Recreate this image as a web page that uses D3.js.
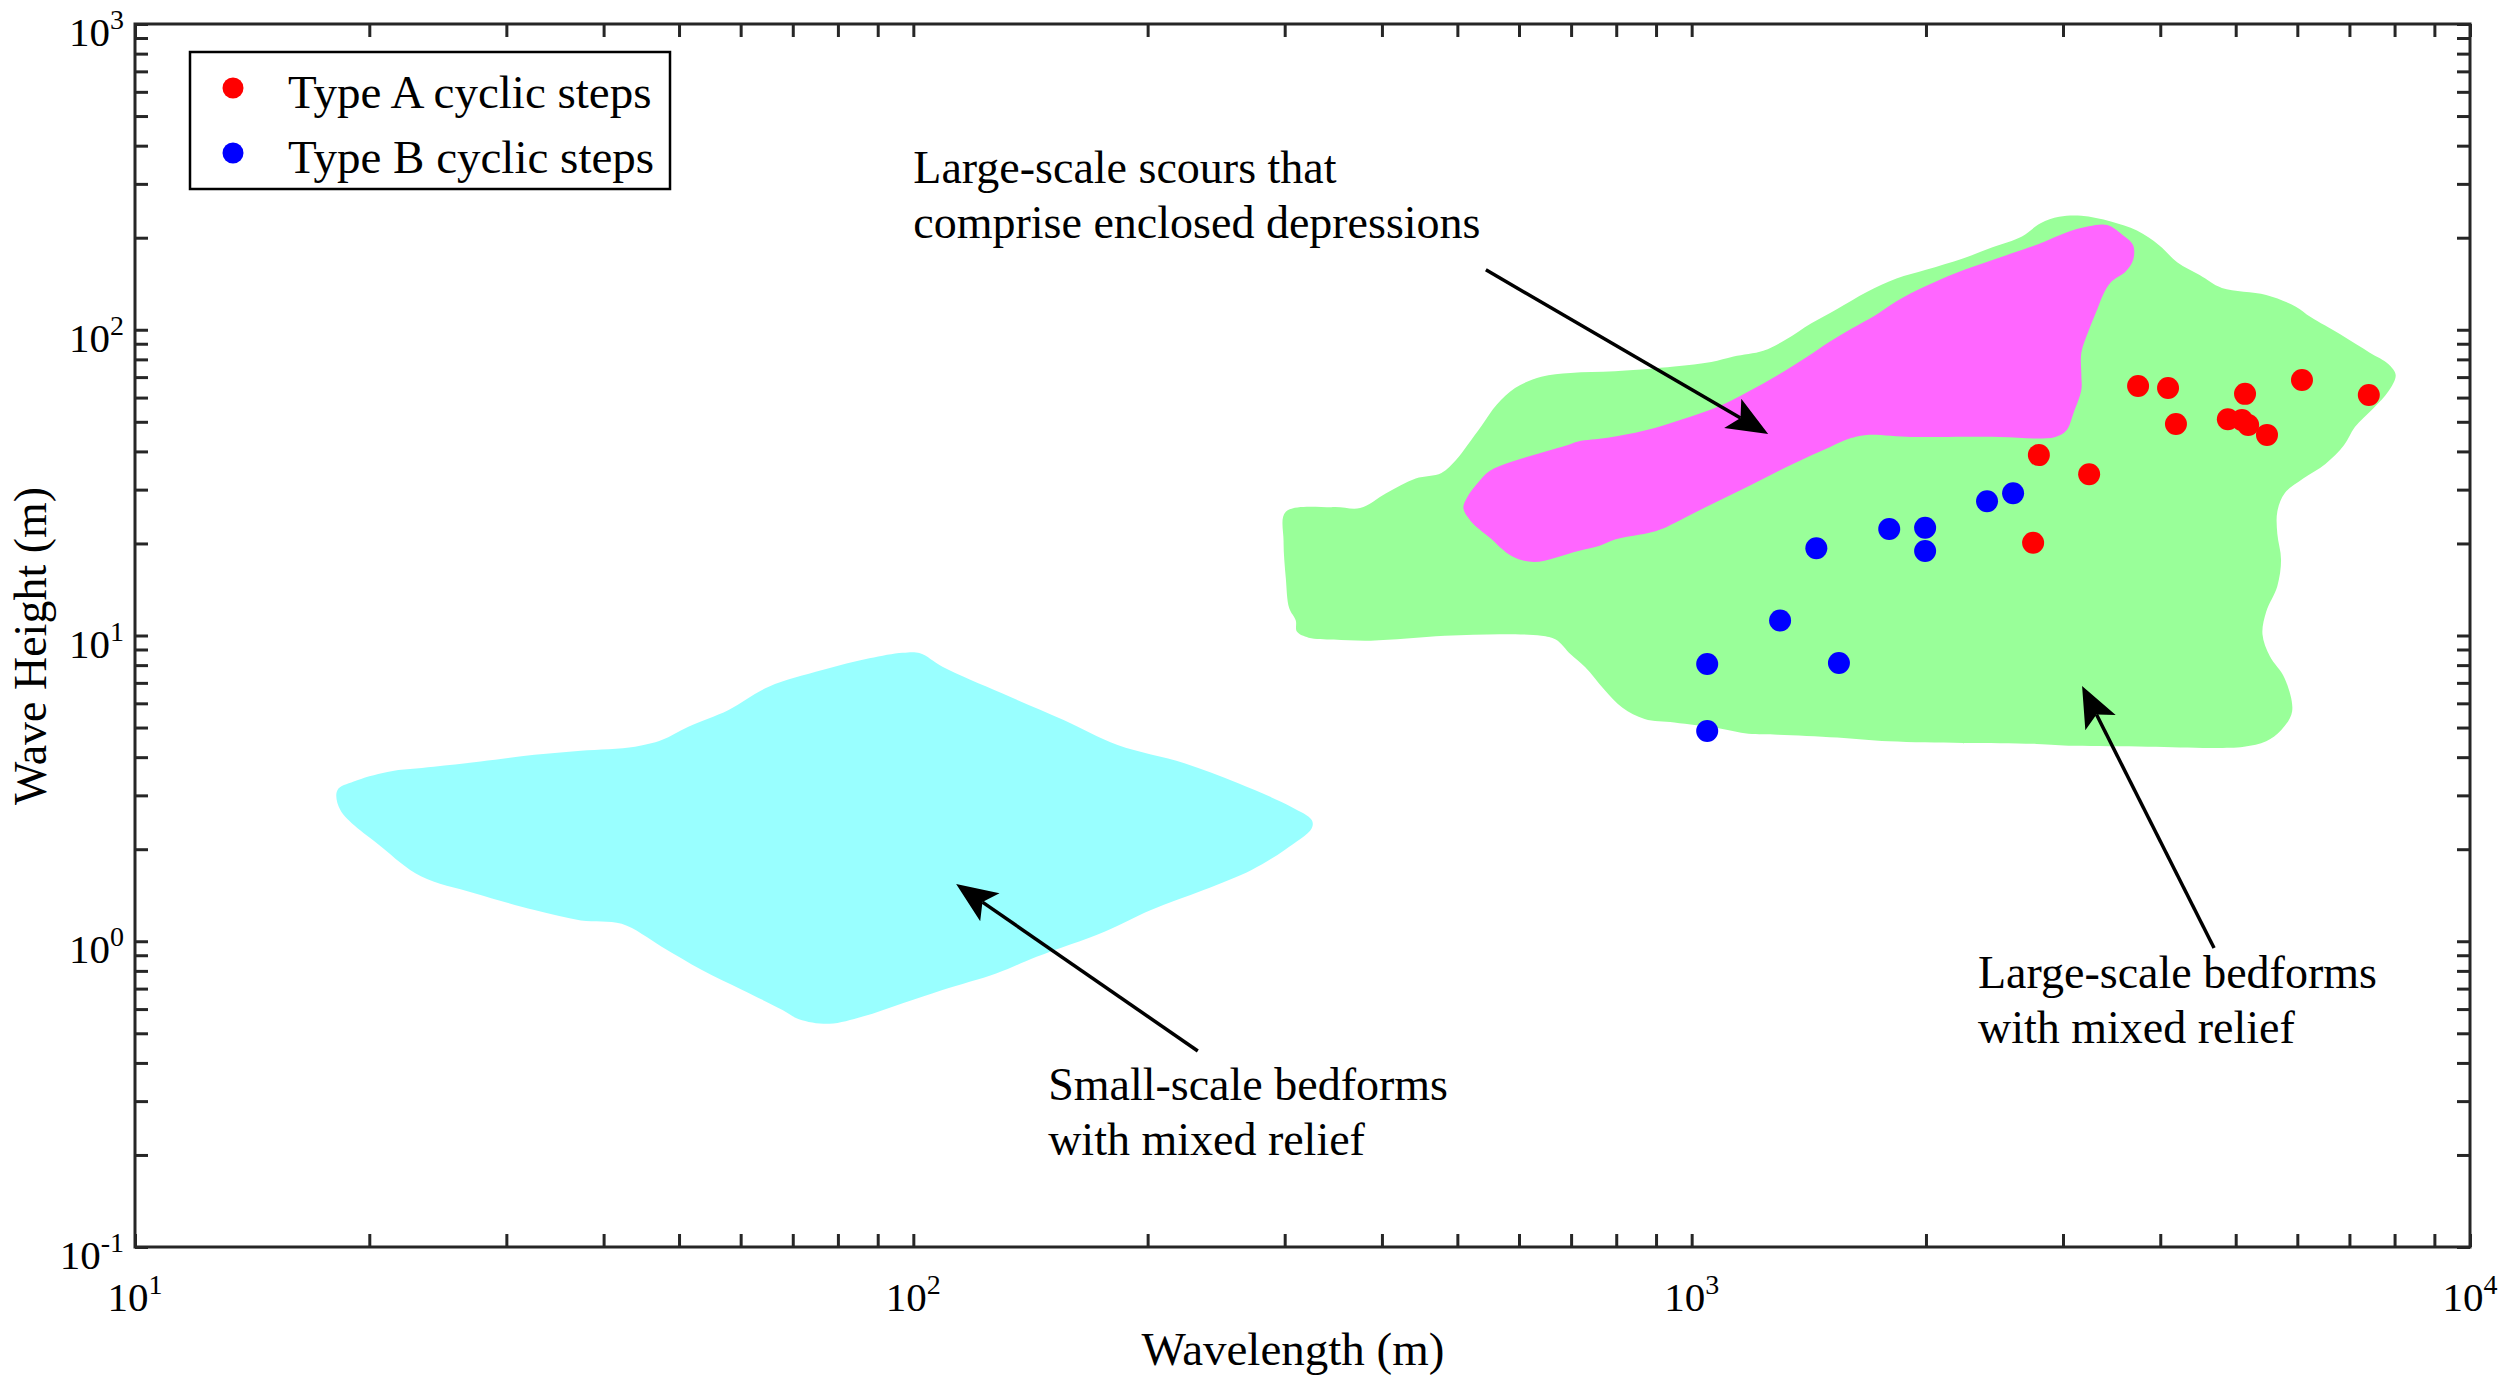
<!DOCTYPE html>
<html>
<head>
<meta charset="utf-8">
<script src="https://cdn.jsdelivr.net/npm/d3@7"></script>
<style>
  body { margin: 0; background: #fff; }
  svg { display: block; }
  text { font-family: "Liberation Serif", "Times New Roman", serif; fill: #000; }
</style>
</head>
<body>
<svg id="chart" width="2500" height="1377"></svg>
<script>
// ---------------- DATA ----------------
// Type A cyclic steps (red)
const redWavelength = [3746, 4093, 5140, 6083, 7413, 4190, 4885, 5093, 5188, 5485, 2793, 3241, 2746];
const redHeight     = [65.5, 64.5, 61.7, 68.5, 61.2, 49.2, 51.0, 50.7, 48.8, 45.3, 38.9, 33.7, 20.1];
// Type B cyclic steps (blue)
const blueWavelength = [2588, 2396, 1995, 1794, 1995, 1446, 1299, 1047, 1546, 1047];
const blueHeight     = [29.2, 27.5, 22.5, 22.3, 18.9, 19.3, 11.2, 8.07, 8.13, 4.87];

// Field outlines: [wavelength (m), wave height (m)]
const largeBedformsOutline = [[301,25.4],[347,26.3],[375,26.1],[405,29.2],[442,32.6],[477,34.0],[498,37.5],[515,41.9],[538,48.8],[562,56.9],[593,64.5],[641,70.2],[699,72.2],[797,73.1],[950,75.8],[1060,78.4],[1132,81.7],[1236,85.3],[1320,92.7],[1425,105],[1538,117],[1679,133],[1833,147],[2000,157],[2231,171],[2435,186],[2657,202],[2807,223],[2966,234],[3167,236],[3456,226],[3733,211],[3986,189],[4209,166],[4494,151],[4800,137],[5472,130],[5974,119],[6241,110],[6812,96.6],[7434,84.1],[7852,77.3],[8026,71.1],[7852,62.8],[7516,55.4],[7114,48.1],[6887,41.9],[6520,36.4],[6105,32.6],[5780,29.2],[5655,25.4],[5655,21.5],[5718,17.7],[5655,14.5],[5472,11.96],[5412,10.1],[5532,8.55],[5780,7.24],[5908,5.64],[5718,4.90],[5472,4.51],[5124,4.33],[4696,4.29],[3857,4.33],[3098,4.36],[2776,4.42],[2231,4.45],[1792,4.51],[1538,4.64],[1291,4.74],[1183,4.77],[1083,4.97],[950,5.19],[870,5.33],[815,5.80],[772,6.66],[730,7.87],[699,8.68],[669,9.70],[641,9.98],[574,10.1],[482,9.98],[387,9.62],[347,9.70],[322,9.84],[311,10.3],[310,11.2],[304,12.3],[301,15.4],[299,20.3]];

const scoursOutline = [[627,17.4],[587,18.2],[550,20.9],[520,23.7],[509,26.1],[515,28.4],[532,31.7],[550,34.5],[587,37.0],[641,39.6],[692,41.9],[715,43.1],[780,44.3],[870,46.8],[971,50.9],[1083,56.1],[1183,62.8],[1291,71.1],[1409,81.7],[1504,91.4],[1606,101],[1716,111],[1833,124],[2000,139],[2182,153],[2435,169],[2716,186],[2839,194],[3030,208],[3237,218],[3419,220],[3572,205],[3691,189],[3691,169],[3611,155],[3456,143],[3381,131],[3308,114],[3237,99.4],[3167,84.1],[3167,71.1],[3167,63.6],[3098,53.8],[3030,46.8],[2933,44.6],[2776,44.1],[2489,44.6],[2135,44.6],[1913,44.6],[1679,45.3],[1606,44.3],[1504,41.3],[1349,36.4],[1183,30.8],[1037,26.1],[930,22.7],[890,21.8],[797,20.6],[763,19.7],[715,18.9]];

const smallBedformsOutline = [[18.2,3.12],[18.35,2.69],[20.7,2.04],[23.3,1.63],[27.3,1.435],[32.6,1.265],[37.4,1.17],[42.2,1.14],[47.5,0.96],[53.5,0.805],[60.3,0.693],[67.9,0.596],[71.3,0.556],[78.0,0.537],[86.1,0.567],[96.9,0.627],[109,0.693],[128,0.786],[144,0.890],[176,1.075],[202,1.265],[236,1.47],[272,1.71],[300,1.99],[325,2.34],[325,2.49],[306,2.75],[261,3.29],[223,3.82],[183,4.38],[156,5.29],[130,6.47],[109,7.91],[102,8.75],[96.9,8.78],[87.8,8.42],[76.4,7.71],[65.2,6.80],[57.9,5.71],[51.4,5.03],[47.5,4.55],[43.9,4.33],[37.4,4.20],[32.6,4.07],[27.8,3.87],[24.2,3.72],[21.1,3.58],[19.1,3.33]];

const xMajorTicks = [10, 100, 1000, 10000];
const yMajorTicks = [0.1, 1, 10, 100, 1000];
const legendLabels = ["Type A cyclic steps", "Type B cyclic steps"];
const xAxisTitle = "Wavelength (m)";
const yAxisTitle = "Wave Height (m)";

// Annotations (anchor positions in data units)
const annotations = [
  { lines: ["Large-scale scours that", "comprise enclosed depressions"], at: [100, 302], from: [544, 157], to: [1254, 45.6] },
  { lines: ["Small-scale bedforms", "with mixed relief"], at: [149, 0.303], from: [232, 0.4375], to: [113.5, 1.54] },
  { lines: ["Large-scale bedforms", "with mixed relief"], at: [2333, 0.703], from: [4690, 0.95], to: [3174, 6.84] }
];

// ---------------- CHART ----------------
const W = 2500, H = 1377;
const plot = { left: 135, right: 2470, top: 24, bottom: 1247 };
const axisColor = "#262626";
const x = d3.scaleLog().domain([10, 1e4]).range([plot.left, plot.right]);
const y = d3.scaleLog().domain([0.1, 1e3]).range([plot.bottom, plot.top]);

const svg = d3.select("#chart");
svg.append("rect").attr("width", W).attr("height", H).attr("fill", "#fff");

const outline = d3.line().x(d => x(d[0])).y(d => y(d[1])).curve(d3.curveCatmullRomClosed.alpha(0.5));
const regions = [
  { pts: largeBedformsOutline, color: "#99FF99" },
  { pts: scoursOutline, color: "#FF66FF" },
  { pts: smallBedformsOutline, color: "#99FFFF" }
];
svg.append("g").selectAll("path").data(regions).join("path")
  .attr("d", d => outline(d.pts)).attr("fill", d => d.color);

// points
const dotR = 11;
svg.append("g").selectAll("circle").data(redWavelength.map((w, i) => [w, redHeight[i]])).join("circle")
  .attr("cx", d => x(d[0])).attr("cy", d => y(d[1])).attr("r", dotR).attr("fill", "#FF0000");
svg.append("g").selectAll("circle").data(blueWavelength.map((w, i) => [w, blueHeight[i]])).join("circle")
  .attr("cx", d => x(d[0])).attr("cy", d => y(d[1])).attr("r", dotR).attr("fill", "#0000FF");

// annotations
const ag = svg.append("g");
annotations.forEach(a => {
  const t = ag.append("text").attr("x", x(a.at[0])).attr("y", y(a.at[1])).attr("font-size", 46);
  a.lines.forEach((ln, i) => t.append("tspan").attr("x", x(a.at[0])).attr("dy", i === 0 ? 0 : 55).text(ln));
  const x0 = x(a.from[0]), y0 = y(a.from[1]), x1 = x(a.to[0]), y1 = y(a.to[1]);
  const len = Math.hypot(x1 - x0, y1 - y0), ux = (x1 - x0) / len, uy = (y1 - y0) / len;
  const nx = -uy, ny = ux;
  const headL = 41, headW = 17, notch = 32;
  ag.append("line").attr("x1", x0).attr("y1", y0).attr("x2", x1 - ux * notch).attr("y2", y1 - uy * notch)
    .attr("stroke", "#000").attr("stroke-width", 3.5);
  const p = [
    [x1, y1],
    [x1 - ux * headL + nx * headW, y1 - uy * headL + ny * headW],
    [x1 - ux * notch, y1 - uy * notch],
    [x1 - ux * headL - nx * headW, y1 - uy * headL - ny * headW]
  ];
  ag.append("path").attr("d", "M" + p.map(q => q.join(",")).join("L") + "Z").attr("fill", "#000");
});

// axes ticks (inward, all four sides)
const tickLen = 13;
function styleAxis(g) {
  g.select(".domain").remove();
  g.selectAll("line").attr("stroke", axisColor).attr("stroke-width", 3);
  g.selectAll("text").remove();
}
const xt = x.ticks(), yt = y.ticks();
svg.append("g").attr("transform", `translate(0,${plot.bottom})`)
  .call(d3.axisBottom(x).tickValues(xt).tickSize(-tickLen).tickSizeOuter(0)).call(styleAxis);
svg.append("g").attr("transform", `translate(0,${plot.top})`)
  .call(d3.axisTop(x).tickValues(xt).tickSize(-tickLen).tickSizeOuter(0)).call(styleAxis);
svg.append("g").attr("transform", `translate(${plot.left},0)`)
  .call(d3.axisLeft(y).tickValues(yt).tickSize(-tickLen).tickSizeOuter(0)).call(styleAxis);
svg.append("g").attr("transform", `translate(${plot.right},0)`)
  .call(d3.axisRight(y).tickValues(yt).tickSize(-tickLen).tickSizeOuter(0)).call(styleAxis);

// box
svg.append("rect").attr("x", plot.left).attr("y", plot.top)
  .attr("width", plot.right - plot.left).attr("height", plot.bottom - plot.top)
  .attr("fill", "none").attr("stroke", axisColor).attr("stroke-width", 3);

// tick labels
const tickFont = 41, supFont = 28, supRaise = 17;
function powLabel(sel, v) {
  sel.append("tspan").text("10");
  sel.append("tspan").attr("font-size", supFont).attr("dy", -supRaise).text(String(Math.round(Math.log10(v))));
}
xMajorTicks.forEach(v => {
  const t = svg.append("text").attr("x", x(v)).attr("y", plot.bottom + 64)
    .attr("font-size", tickFont).attr("text-anchor", "middle");
  powLabel(t, v);
});
yMajorTicks.forEach(v => {
  const t = svg.append("text").attr("x", plot.left - 11).attr("y", y(v) + 22)
    .attr("font-size", tickFont).attr("text-anchor", "end");
  powLabel(t, v);
});

// axis titles
svg.append("text").attr("x", 1293).attr("y", 1365)
  .attr("font-size", 47).attr("text-anchor", "middle").text(xAxisTitle);
svg.append("text").attr("transform", `translate(46,646) rotate(-90)`)
  .attr("font-size", 46).attr("text-anchor", "middle").text(yAxisTitle);

// legend
const lg = svg.append("g");
lg.append("rect").attr("x", 190).attr("y", 52).attr("width", 480).attr("height", 137)
  .attr("fill", "#fff").attr("stroke", "#000").attr("stroke-width", 2.5);
const legendColors = ["#FF0000", "#0000FF"];
legendLabels.forEach((lab, i) => {
  const cy = 88 + i * 65;
  lg.append("circle").attr("cx", 233).attr("cy", cy).attr("r", 10.5).attr("fill", legendColors[i]);
  lg.append("text").attr("x", 288).attr("y", cy + 20).attr("font-size", 47).text(lab);
});
</script>
</body>
</html>
